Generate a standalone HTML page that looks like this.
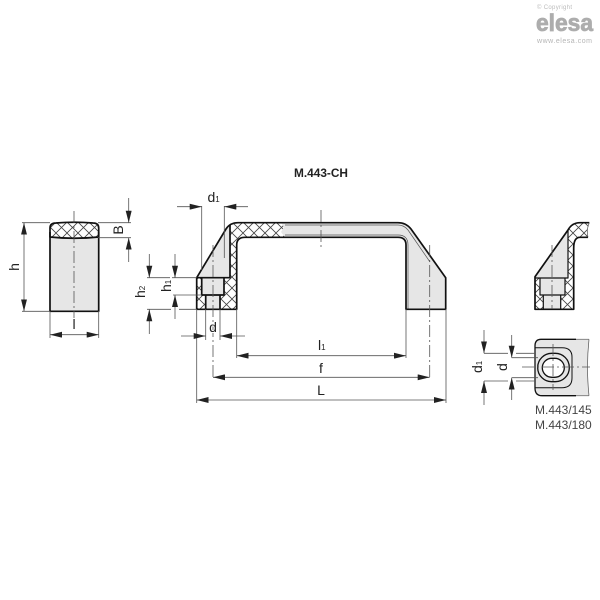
<!DOCTYPE html>
<html><head><meta charset="utf-8"><style>
html,body{margin:0;padding:0;background:#fff;width:600px;height:600px;overflow:hidden}
svg{display:block}
text{font-family:"Liberation Sans",sans-serif;fill:#222}
.o{stroke:#111;stroke-width:1.7;stroke-linejoin:round}
.t{fill:none;stroke:#555;stroke-width:.7}
.d{fill:none;stroke:#555;stroke-width:.8}
.c{fill:none;stroke:#555;stroke-width:.8;stroke-dasharray:12 3 2 3}
.a{fill:#222;stroke:none}
</style></head><body>
<svg width="600" height="600" viewBox="0 0 600 600" xmlns="http://www.w3.org/2000/svg">
<defs>
<pattern id="x" width="11" height="11" patternUnits="userSpaceOnUse" patternTransform="translate(1 2)">
<rect width="11" height="11" fill="#fff"/>
<path d="M0 0L11 11M11 0L0 11" stroke="#444" stroke-width=".8"/>
</pattern>
<marker id="m" viewBox="0 0 12 6" refX="12" refY="3" markerWidth="12" markerHeight="6" markerUnits="userSpaceOnUse" orient="auto-start-reverse"><path class="a" d="M0 0L12 3L0 6Z"/></marker>
<marker id="n" viewBox="0 0 12 6" refX="12" refY="3" markerWidth="12" markerHeight="6" markerUnits="userSpaceOnUse" orient="auto"><path class="a" d="M0 0L12 3L0 6Z"/></marker>
</defs>

<!-- logo -->
<text x="537" y="9" font-size="6" style="fill:#bbb" textLength="35">© Copyright</text>
<text x="536" y="31" font-size="24" font-weight="bold" style="fill:#adadad;stroke:#adadad;stroke-width:.8" textLength="57" lengthAdjust="spacingAndGlyphs">elesa</text>
<text x="537" y="43" font-size="7" style="fill:#b5b5b5" textLength="55">www.elesa.com</text>

<text x="321" y="177" font-size="12" font-weight="bold" text-anchor="middle" textLength="54" lengthAdjust="spacingAndGlyphs">M.443-CH</text>

<!-- left side view -->
<rect x="50" y="230" width="48.7" height="81" fill="#e6e6e6"/>
<path d="M50 237V228Q50 223 56 223Q74 221.5 93 223Q98.7 223 98.7 228V237Q74 239.5 50 237Z" style="fill:url(#x)" class="o"/>
<path d="M50 232V311.3H98.7V232" class="o" fill="none"/>
<path class="c" d="M74 211V330"/>
<path class="d" d="M22 222.7H50M22 311.3H50M50 311V338M98.7 311V338M98 222.7H131M98 237.7H131"/>
<path class="d" d="M24 222.7V311.3" marker-start="url(#m)" marker-end="url(#m)"/>
<path class="d" d="M50 334.7H98.7" marker-start="url(#m)" marker-end="url(#m)"/>
<path class="d" d="M128.7 198V222.7" marker-end="url(#n)"/>
<path class="d" d="M128.7 262V237.7" marker-end="url(#n)"/>
<text transform="translate(19 267) rotate(-90)" font-size="14" text-anchor="middle">h</text>
<text x="74" y="329" font-size="14" text-anchor="middle" style="paint-order:stroke;stroke:#fff;stroke-width:2">l</text>
<text transform="translate(123 230) rotate(-90)" font-size="14" text-anchor="middle">B</text>

<!-- main handle -->
<path d="M196.7 309.3V277.7L226 229Q230 222.7 238 222.7H398Q406 222.7 411 229L445.7 277.7V309.3H406V245Q406 237.3 398 237.3H245Q236.7 237.3 236.7 245V309.3Z" fill="#e6e6e6"/>
<path d="M196.7 309.3V277.7H230V225Q233 222.7 238 222.7H281L284 227L281 232L285 237.3H245Q236.7 237.3 236.7 245V309.3Z" fill="url(#x)"/>
<path d="M196.7 277.7L228.5 226.5L230 225V277.7Z" fill="#e6e6e6"/>
<rect x="201.7" y="277.7" width="22.3" height="17.3" fill="#e6e6e6"/>
<rect x="205.7" y="295" width="14.3" height="14.3" fill="#e6e6e6"/>
<path class="t" d="M285 225H398Q404 225 408 230L430 262M285 235H398Q408 235 408 245V309"/>
<path class="o" fill="none" d="M196.7 309.3V277.7L226 229Q230 222.7 238 222.7H398Q406 222.7 411 229L445.7 277.7V309.3H406V245Q406 237.3 398 237.3H245Q236.7 237.3 236.7 245V309.3Z"/>
<path class="o" fill="none" d="M230 225V277.7H196.7M201.7 277.7V295H224V277.7M205.7 295V309.3M220 295V309.3"/>
<path class="c" d="M321 210V250M213 245V380M429.7 245V380"/>
<path class="d" d="M201.7 206V270M224.3 206V258M196.7 309V403M205.7 309V340M220 309V340M236.7 309V358M406 309V358M446 309V403"/>
<path class="d" d="M177 206.7H201.7" marker-end="url(#n)"/>
<path class="d" d="M248 206.7H224.3" marker-end="url(#n)"/>
<path class="d" d="M181 336H205.7" marker-end="url(#n)"/>
<path class="d" d="M245 336H220" marker-end="url(#n)"/>
<path class="d" d="M236.7 355.7H406" marker-start="url(#m)" marker-end="url(#m)"/>
<path class="d" d="M213 377.3H429.7" marker-start="url(#m)" marker-end="url(#m)"/>
<path class="d" d="M196.7 400H446" marker-start="url(#m)" marker-end="url(#m)"/>
<path class="d" d="M172 277.7H196.7M173 295H201.7M147 309.3H171M179 309.3H196.7M147 277.7H170"/>
<path class="d" d="M149.3 254V277.7" marker-end="url(#n)"/>
<path class="d" d="M149.3 334V309.3" marker-end="url(#n)"/>
<path class="d" d="M175 254V277.7" marker-end="url(#n)"/>
<path class="d" d="M175 319V295" marker-end="url(#n)"/>
<text x="207.5" y="202" font-size="14">d<tspan font-size="8">1</tspan></text>
<text x="213" y="332" font-size="14" text-anchor="middle" style="paint-order:stroke;stroke:#fff;stroke-width:2">d</text>
<text x="318" y="350" font-size="14">l<tspan font-size="8">1</tspan></text>
<text x="321" y="373" font-size="14" text-anchor="middle">f</text>
<text x="321" y="395" font-size="14" text-anchor="middle">L</text>
<text transform="translate(145 298) rotate(-90)" font-size="14">h<tspan font-size="8">2</tspan></text>
<text transform="translate(171 292) rotate(-90)" font-size="14">h<tspan font-size="8">1</tspan></text>

<!-- right partial section -->
<path d="M535 309.3V276.7L568 230Q572 222.7 580 222.7H589.3L587.5 230L588 237.3H580Q573.7 237.3 573.7 248V309.3Z" fill="url(#x)"/>
<path d="M535 276.7L568 230V278H535Z" fill="#e6e6e6"/>
<rect x="540" y="278" width="25" height="17" fill="#e6e6e6"/>
<rect x="543.3" y="295" width="17.4" height="14.3" fill="#e6e6e6"/>
<path class="o" fill="none" d="M589.3 222.7H580Q572 222.7 568 230L535 276.7V309.3H573.7V248Q573.7 237.3 580 237.3H588"/>
<path class="o" fill="none" style="stroke-width:1.2" d="M568 230V278H535M540 278V295H565V278M543.3 295V309.3M560.7 295V309.3"/>
<path class="t" d="M589.3 222.7Q586 230 588 237.3"/>
<path class="c" d="M552 245V309"/>

<!-- bottom view -->
<path d="M575 339.3H589L587.5 367L589 395.7H575V339.3Z" fill="#e6e6e6"/>
<path d="M576 339.3H541Q535 339.3 535 346V388Q535 395.7 542 395.7H576Z" fill="#e6e6e6"/>
<path class="o" fill="none" style="stroke-width:1.3" d="M576 339.3H541Q535 339.3 535 346V388Q535 395.7 542 395.7H576"/>
<path d="M576 339.3H589M576 395.7H589" stroke="#777" stroke-width=".8" fill="none"/>
<path d="M589 339.3Q586 367 589 395.7" class="t"/>
<path d="M535 347.7H562Q572 347.7 572 357V378Q572 387.7 562 387.7H535" class="o" fill="none" style="stroke-width:1"/>
<rect x="537.7" y="353.3" width="31.6" height="28.4" rx="14" fill="#e6e6e6" class="o" style="stroke-width:1.3"/>
<rect x="542.3" y="358.3" width="22" height="19" rx="9.5" fill="#fff" class="o" style="stroke-width:1.3"/>
<path class="c" d="M522 367H590M553 344V390"/>
<path class="d" d="M484 353.3H508M516 353.3H535M484 381H508M516 381H535M511.7 357.7H538M511.7 377.7H538"/>
<path class="d" d="M484 330V353.3" marker-end="url(#n)"/>
<path class="d" d="M484 405V381" marker-end="url(#n)"/>
<path class="d" d="M511.7 335V357.7" marker-end="url(#n)"/>
<path class="d" d="M511.7 400V377.7" marker-end="url(#n)"/>
<text transform="translate(482 373) rotate(-90)" font-size="14">d<tspan font-size="8">1</tspan></text>
<text transform="translate(507 371) rotate(-90)" font-size="14">d</text>
<text x="535" y="414" font-size="12" style="fill:#444">M.443/145</text>
<text x="535" y="429" font-size="12" style="fill:#444">M.443/180</text>
</svg>
</body></html>
